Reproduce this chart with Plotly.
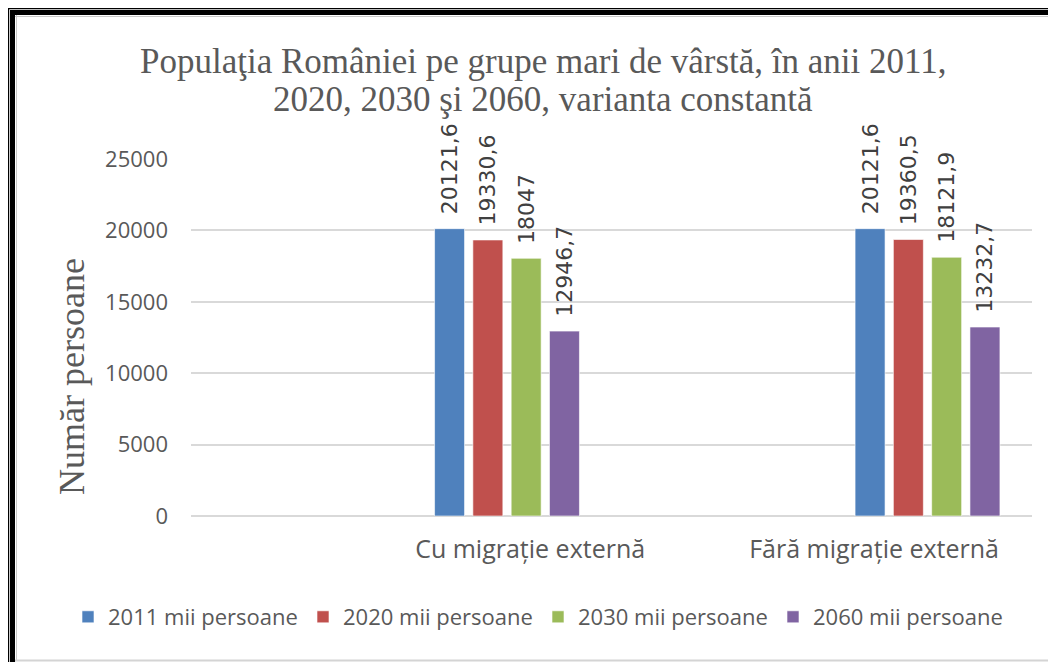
import plotly.graph_objects as go

# ---- data ----
categories = ["Cu migrație externă", "Fără migrație externă"]
series_names = ["2011 mii persoane", "2020 mii persoane", "2030 mii persoane", "2060 mii persoane"]
values_2011 = [20121.6, 20121.6]
values_2020 = [19330.6, 19360.5]
values_2030 = [18047.0, 18121.9]
values_2060 = [12946.7, 13232.7]
y_ticks = [0, 5000, 10000, 15000, 20000, 25000]
title_lines = ["Populaţia României pe grupe mari de vârstă, în anii 2011,",
               "2020, 2030 şi 2060, varianta constantă"]

colors = ["#4F81BD", "#C0504D", "#9BBB59", "#8064A2"]
all_values = [values_2011, values_2020, values_2030, values_2060]

# page body has an 8px margin -> figure drawn at (8, 8) of the window
OFF = 8
W_FIG, H_FIG = 1056 - OFF, 662 - OFF
L, R, T, B = 191 - OFF, 24, 159 - OFF, 146
PW = W_FIG - L - R
PH = H_FIG - T - B


def px2x(sx):
    return (sx - OFF - L) / PW


def py2y(sy):
    return (T + PH - (sy - OFF)) / PH


def fmt(v):
    return f"{v:g}".replace(".", ",")


cat_pos = [0, 1]
label_pos = [0.055, 0.873]

fig = go.Figure()
for name, vals, col in zip(series_names, all_values, colors):
    fig.add_trace(go.Bar(
        x=cat_pos, y=vals, name=name,
        marker=dict(color=col, line=dict(color="rgba(255,255,255,0.6)", width=1)),
        text=["\u00a0\u2009" + fmt(v) for v in vals],
        textposition="outside", textangle=-90,
        constraintext="none", cliponaxis=False,
        textfont=dict(family="DejaVu Sans", size=22, color="#404040"),
        hoverinfo="skip",
    ))

shapes = []
# frame: thin + thick black lines (left & top), grey inner lines, grey bottom line
shapes.append(dict(type="line", xref="paper", yref="paper",
                   x0=px2x(8.6), x1=px2x(8.6), y0=py2y(8), y1=py2y(665),
                   line=dict(color="black", width=1.2)))
shapes.append(dict(type="line", xref="paper", yref="paper",
                   x0=px2x(12.5), x1=px2x(12.5), y0=py2y(10), y1=py2y(665),
                   line=dict(color="black", width=5)))
shapes.append(dict(type="line", xref="paper", yref="paper",
                   x0=px2x(8), x1=px2x(1070), y0=py2y(8.6), y1=py2y(8.6),
                   line=dict(color="black", width=1.2)))
shapes.append(dict(type="line", xref="paper", yref="paper",
                   x0=px2x(10), x1=px2x(1070), y0=py2y(12.5), y1=py2y(12.5),
                   line=dict(color="black", width=5)))
shapes.append(dict(type="line", xref="paper", yref="paper",
                   x0=px2x(16.5), x1=px2x(16.5), y0=py2y(15), y1=py2y(660),
                   line=dict(color="#c8c8c8", width=1)))
shapes.append(dict(type="line", xref="paper", yref="paper",
                   x0=px2x(15), x1=px2x(1070), y0=py2y(16.5), y1=py2y(16.5),
                   line=dict(color="#c8c8c8", width=1)))
shapes.append(dict(type="line", xref="paper", yref="paper",
                   x0=px2x(15), x1=px2x(1070), y0=py2y(660.5), y1=py2y(660.5),
                   line=dict(color="#d4d4d4", width=2)))

annotations = [dict(
    text="Număr persoane", textangle=-90,
    x=px2x(72), y=py2y(376), xref="paper", yref="paper",
    xanchor="center", yanchor="middle", showarrow=False,
    font=dict(family="Liberation Serif", size=36, color="#595959"),
)]
for line, sy in zip(title_lines, [61, 100]):
    annotations.append(dict(
        text=line, x=px2x(543), y=py2y(sy), xref="paper", yref="paper",
        xanchor="center", yanchor="middle", showarrow=False,
        font=dict(family="Liberation Serif", size=35, color="#595959"),
    ))

fig.update_layout(
    width=W_FIG, height=H_FIG,
    margin=dict(l=L, r=R, t=T, b=B, autoexpand=False),
    paper_bgcolor="white", plot_bgcolor="white",
    barmode="group", bargap=0.6357, bargroupgap=0.217,
    xaxis=dict(
        range=[-0.7515, 1.2485], tickvals=label_pos, ticktext=categories,
        showgrid=False, zeroline=False, showline=False, ticks="",
        tickfont=dict(family="Open Sans", size=25, color="#595959"),
        ticklabelstandoff=16, fixedrange=True,
    ),
    yaxis=dict(
        range=[0, 25000], tickvals=y_ticks, ticktext=[str(t) for t in y_ticks],
        showgrid=True, gridcolor="#d9d9d9", gridwidth=1.5,
        zeroline=True, zerolinecolor="#d9d9d9", zerolinewidth=1.5,
        showline=False, ticks="",
        tickfont=dict(family="Open Sans", size=22, color="#595959"),
        ticklabelstandoff=22, fixedrange=True,
    ),
    legend=dict(
        orientation="h", x=px2x(68), y=py2y(596), xanchor="left", yanchor="top",
        font=dict(family="Open Sans", size=22, color="#595959"),
        entrywidth=190, entrywidthmode="pixels",
        traceorder="normal", bgcolor="rgba(0,0,0,0)",
    ),
    showlegend=True,
    shapes=shapes,
    annotations=annotations,
)

fig.write_html("out.html")
